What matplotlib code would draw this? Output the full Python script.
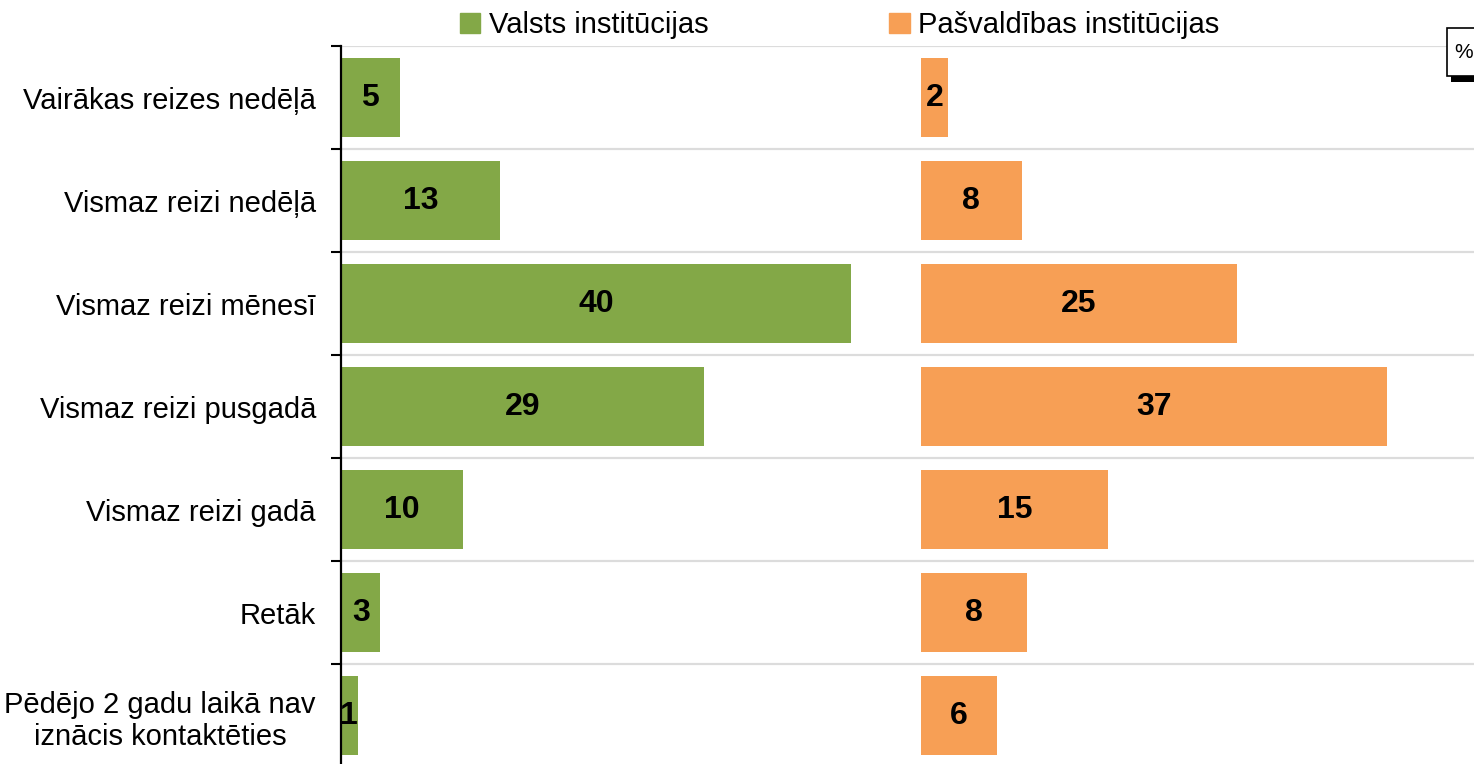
import matplotlib
matplotlib.use("Agg")
from matplotlib import pyplot as plt
from matplotlib.patches import Rectangle, Patch

plt.rcParams['font.family'] = ['Liberation Sans', 'DejaVu Sans']

categories = ['Vairākas reizes nedēļā', 'Vismaz reizi nedēļā', 'Vismaz reizi mēnesī',
              'Vismaz reizi pusgadā', 'Vismaz reizi gadā', 'Retāk',
              'Pēdējo 2 gadu laikā nav\niznācis kontaktēties']
valsts = [4.6, 12.5, 40.1, 28.5, 9.6, 3.1, 1.3]
pasvaldibas = [2.1, 7.9, 24.8, 36.6, 14.7, 8.3, 6.0]
series_names = ['Valsts institūcijas', 'Pašvaldības institūcijas']

green = '#83A847'
orange = '#F79F55'
offset = 45.6  # where the second group starts


def fmt(v):
    return '%d' % int(v + 0.5)


W, H = 1474, 764
fig = plt.figure(figsize=(W / 100, H / 100), dpi=100)
ax = fig.add_axes([341 / W, -3 / H, 1 - 341 / W, (767 - 46) / H])

y = list(range(len(categories)))
ax.barh(y, valsts, height=0.76, color=green, zorder=3)
ax.barh(y, pasvaldibas, left=offset, height=0.76, color=orange, zorder=3)

for i in y:
    ax.text(valsts[i] / 2, i, fmt(valsts[i]), ha='center', va='center',
            fontsize=23, fontweight='bold', zorder=4)
    ax.text(offset + pasvaldibas[i] / 2, i, fmt(pasvaldibas[i]), ha='center', va='center',
            fontsize=23, fontweight='bold', zorder=4)

ax.set_xlim(0, 89.07)
ax.set_ylim(len(categories) - 0.5, -0.5)
ax.set_xticks([])
ax.set_yticks(y)
ax.set_yticklabels(categories, fontsize=21, ha='right', linespacing=1.2)
for lbl in ax.get_yticklabels():
    lbl.set_multialignment('center')
ax.set_yticks([i - 0.5 for i in range(len(categories) + 1)], minor=True)
ax.tick_params(axis='y', which='major', length=0, pad=18)
ax.tick_params(axis='y', which='minor', length=7, width=1.5, direction='out', color='black')
ax.grid(axis='y', which='minor', color='#dcdcdc', linewidth=1.6, zorder=0)
ax.set_axisbelow(True)
for s in ['top', 'right', 'bottom']:
    ax.spines[s].set_visible(False)
ax.spines['left'].set_linewidth(1.6)
ax.spines['left'].set_zorder(5)

handles = [Patch(color=green), Patch(color=orange)]
fig.legend(handles, series_names, loc='center left', bbox_to_anchor=(445 / W, 1 - 25 / H),
           ncol=2, frameon=False, fontsize=21, handlelength=0.7, handleheight=0.7,
           handletextpad=0.3, columnspacing=6.2, borderpad=0)

# small "%" box in the corner
fig.patches.append(Rectangle((1451 / W, 682 / H), 30 / W, 50 / H, transform=fig.transFigure,
                             facecolor='black', edgecolor='none'))
fig.patches.append(Rectangle((1447 / W, 688 / H), 32 / W, 48 / H, transform=fig.transFigure,
                             facecolor='white', edgecolor='black', linewidth=1.2))
fig.text(1454 / W, 712 / H, '%', fontsize=15, va='center', ha='left')

fig.savefig('out.png', dpi=100)
